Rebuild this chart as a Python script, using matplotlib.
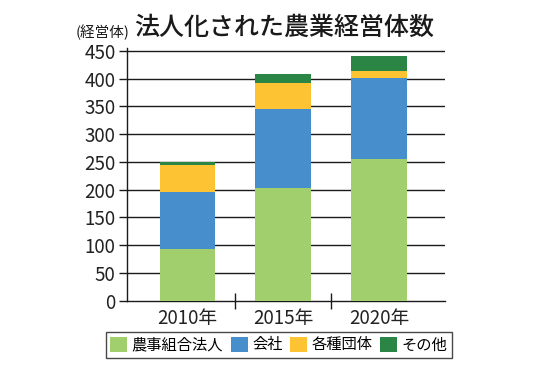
import matplotlib
matplotlib.use('Agg')
import matplotlib.pyplot as plt
import matplotlib.patches as patches

plt.rcParams['font.family'] = ['Noto Sans CJK JP', 'DejaVu Sans']

# data
years = ['2010年', '2015年', '2020年']
nouji = [93, 203, 255]      # 農事組合法人
kaisha = [102, 142, 146]    # 会社
dantai = [49, 48, 12]       # 各種団体
sonota = [5, 16, 27]        # その他
series_names = ['農事組合法人', '会社', '各種団体', 'その他']
colors = ['#a2cf6e', '#468fcc', '#fdc332', '#2b8545']
yticks = list(range(0, 451, 50))

fig = plt.figure(figsize=(5.59, 3.84), dpi=100)
ax = fig.add_axes([0.2267, 0.217, 0.5693, 0.659])

x = list(range(len(years)))
bottom = [0, 0, 0]
for vals, name, c in zip([nouji, kaisha, dantai, sonota], series_names, colors):
    ax.bar(x, vals, width=0.58, bottom=bottom, color=c, label=name, zorder=3)
    bottom = [b + v for b, v in zip(bottom, vals)]

# horizontal lines at each tick
for t in yticks[1:]:
    ax.axhline(t, color='#1a1a1a', linewidth=1.0, zorder=1)

ax.set_xlim(-0.635, 2.69)
ax.set_ylim(0, 456)
ax.set_yticks(yticks)
ax.set_yticklabels([str(t) for t in yticks], fontsize=13.5, color='#222222')
ax.set_xticks(x)
ax.set_xticklabels(years, fontsize=13.5, color='#222222')
ax.set_xticks([0.5, 1.5], minor=True)
ax.tick_params(axis='x', which='major', length=0, pad=5)
ax.tick_params(axis='x', which='minor', direction='inout', length=11, width=1.0, color='#1a1a1a')
ax.tick_params(axis='y', which='major', direction='out', length=6, width=1.0, color='#1a1a1a', pad=2)

for s in ['top', 'right']:
    ax.spines[s].set_visible(False)
for s in ['left', 'bottom']:
    ax.spines[s].set_color('#1a1a1a')
    ax.spines[s].set_linewidth(1.0)

fig.text(134 / 559, 1 - 28 / 384, '法人化された農業経営体数', fontsize=18, fontweight='medium',
         ha='left', va='center', color='#1a1a1a')
fig.text(76 / 559, 1 - 32 / 384, '(経営体)', fontsize=10.5,
         ha='left', va='center', color='#1a1a1a')

handles = [patches.Patch(facecolor=c, edgecolor='none') for c in colors]
leg = fig.legend(handles, series_names, loc='center', ncol=4,
                 bbox_to_anchor=(279 / 559, 1 - 345 / 384), fontsize=11,
                 frameon=True, fancybox=False, edgecolor='#1a1a1a',
                 handlelength=1.1, handleheight=1.1, handletextpad=0.3,
                 columnspacing=0.5, borderpad=0.3, borderaxespad=0)
leg.get_frame().set_linewidth(1.0)

fig.savefig('out.png', dpi=100)
